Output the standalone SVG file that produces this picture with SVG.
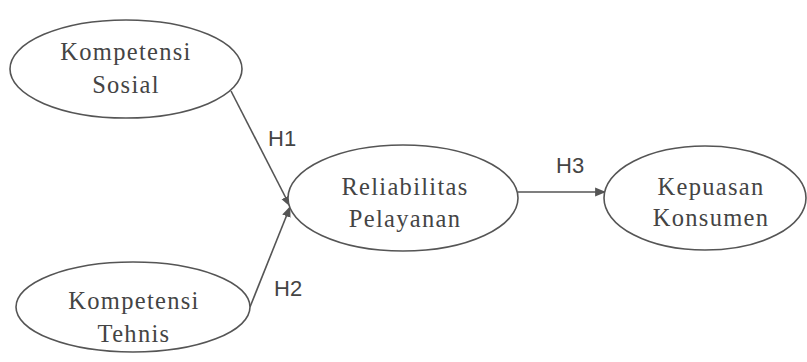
<svg xmlns="http://www.w3.org/2000/svg" width="807" height="362" viewBox="0 0 807 362">
<style>
.n{fill:#fff;stroke:#555;stroke-width:1.6}
.t{font-family:"Liberation Serif","Times New Roman",serif;font-size:24.5px;fill:#444;text-anchor:middle;letter-spacing:1.3px}
.h{font-family:"Liberation Sans",Arial,sans-serif;font-size:22px;fill:#444}
.c{stroke:#555;stroke-width:1.6;fill:none}
</style>
<defs>
<marker id="a" viewBox="0 0 10 10" refX="9" refY="5" markerWidth="11" markerHeight="11" markerUnits="userSpaceOnUse" orient="auto">
<path d="M0,1 L10,5 L0,9 z" fill="#555"/>
</marker>
</defs>
<rect width="807" height="362" fill="#fff"/>
<g id="connectors">
<line class="c" x1="231" y1="91" x2="290" y2="206" marker-end="url(#a)"/>
<line class="c" x1="250" y1="307" x2="290" y2="207" marker-end="url(#a)"/>
<line class="c" x1="518" y1="192" x2="605" y2="192" marker-end="url(#a)"/>
<text class="h" x="268" y="146">H1</text>
<text class="h" x="274" y="296">H2</text>
<text class="h" x="556" y="173">H3</text>
</g>
<g id="kompetensi-sosial">
<ellipse class="n" cx="126" cy="69" rx="116" ry="49"/>
<text class="t" x="126" y="60">Kompetensi</text>
<text class="t" x="126" y="93">Sosial</text>
</g>
<g id="kompetensi-tehnis">
<ellipse class="n" cx="133" cy="307" rx="117" ry="45"/>
<text class="t" x="134" y="309">Kompetensi</text>
<text class="t" x="134" y="342">Tehnis</text>
</g>
<g id="reliabilitas-pelayanan">
<ellipse class="n" cx="403" cy="198" rx="115" ry="53"/>
<text class="t" x="405" y="195">Reliabilitas</text>
<text class="t" x="405" y="227">Pelayanan</text>
</g>
<g id="kepuasan-konsumen">
<ellipse class="n" cx="705" cy="198" rx="101" ry="52"/>
<text class="t" x="711" y="195">Kepuasan</text>
<text class="t" x="711" y="226">Konsumen</text>
</g>
</svg>
